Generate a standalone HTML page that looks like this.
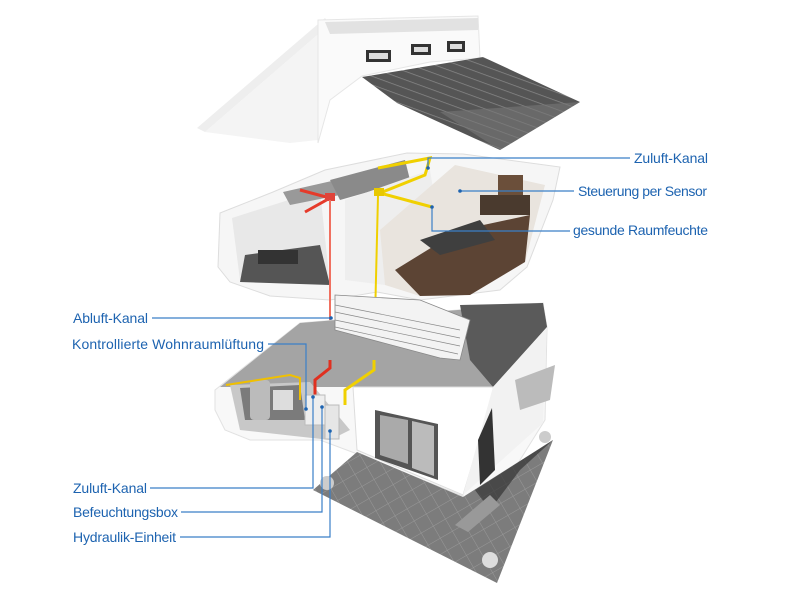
<!DOCTYPE html>
<html><head><meta charset="utf-8"><style>
html,body{margin:0;padding:0;background:#fff;}
svg{display:block}
text{font-family:"Liberation Sans",sans-serif;font-size:14px;fill:#1d63b0}
</style></head><body>
<svg width="800" height="600" viewBox="0 0 800 600" xmlns="http://www.w3.org/2000/svg">
<defs>
<pattern id="tile" width="14" height="14" patternUnits="userSpaceOnUse" patternTransform="rotate(-30)">
<rect width="14" height="14" fill="#7c7c7c"/><path d="M0 0H14M0 0V14" stroke="#999" stroke-width="1"/></pattern>
<pattern id="roof" width="8" height="8" patternUnits="userSpaceOnUse" patternTransform="rotate(20)">
<rect width="8" height="8" fill="#555"/><path d="M0 0H8" stroke="#888" stroke-width="1.5"/></pattern>
</defs>
<!-- ROOF -->
<polygon points="197,128 325,18 330,24 205,132" fill="#eee"/>
<polygon points="205,132 330,24 318,140 290,143" fill="#f4f4f4"/>
<polygon points="318,20 478,16 480,58 430,62 362,76 330,100 318,143" fill="#fafafa" stroke="#e6e6e6"/>
<polygon points="325,22 478,18 478,30 330,34" fill="#e2e2e2"/>
<rect x="366" y="50" width="25" height="12" fill="#333"/><rect x="369" y="53" width="19" height="6" fill="#ddd"/>
<rect x="411" y="44" width="20" height="11" fill="#333"/><rect x="414" y="47" width="14" height="5" fill="#ddd"/>
<rect x="447" y="41" width="18" height="11" fill="#333"/><rect x="450" y="44" width="12" height="5" fill="#ddd"/>
<polygon points="362,77 483,57 580,102 500,150 397,103" fill="url(#roof)"/>
<polygon points="440,112 580,102 500,150" fill="#777" opacity="0.6"/>
<!-- UPPER FLOOR -->
<polygon points="220,213 273,192 325,170 407,153 463,154 560,167 553,200 527,267 500,290 420,300 377,292 330,300 270,296 230,282 218,267" fill="#f6f6f6" stroke="#ddd"/>
<polygon points="232,218 320,190 330,285 240,280" fill="#e8e8e8"/>
<polygon points="245,255 320,245 330,285 240,282" fill="#555"/>
<rect x="258" y="250" width="40" height="14" fill="#333"/>
<polygon points="283,192 345,178 340,195 290,205" fill="#999"/>
<polygon points="330,180 405,160 410,180 340,200" fill="#8a8a8a"/>
<polygon points="345,200 430,170 440,232 385,285 345,280" fill="#eee"/>
<polygon points="380,230 455,165 545,185 525,262 470,295 420,296 385,285" fill="#e9e4de"/>
<polygon points="395,270 460,230 530,215 525,262 470,295 420,296" fill="#5c4434"/>
<polygon points="420,240 480,220 495,240 440,255" fill="#3f3f3f"/>
<rect x="498" y="175" width="25" height="20" fill="#6b4f3a"/>
<rect x="480" y="195" width="50" height="20" fill="#4a3a2e"/>
<!-- ducts -->
<polyline points="378,168 430,158 425,175 380,193" fill="none" stroke="#f0d000" stroke-width="3"/>
<polyline points="380,193 432,207" fill="none" stroke="#f0d000" stroke-width="3"/>
<rect x="374" y="188" width="10" height="8" fill="#e8c800"/>
<line x1="378" y1="196" x2="374" y2="360" stroke="#f0d000" stroke-width="2"/>
<polyline points="300,190 330,198 305,212" fill="none" stroke="#e53a2a" stroke-width="3"/>
<rect x="325" y="193" width="10" height="8" fill="#e0443a"/>
<line x1="330" y1="200" x2="330" y2="360" stroke="#f07060" stroke-width="2"/>
<!-- LOWER FLOOR -->
<polygon points="215,390 300,323 543,303 547,327 545,420 495,500 465,497 360,455 320,440 250,440 225,430 215,410" fill="#f8f8f8" stroke="#e2e2e2"/>
<polygon points="300,323 543,303 547,327 493,387 353,387 220,387" fill="#a4a4a4"/>
<polygon points="460,305 543,303 547,327 493,387 470,360" fill="#5a5a5a"/>
<polygon points="230,385 310,382 350,430 330,440 240,430" fill="#c8c8c8"/>
<polygon points="240,388 300,385 305,420 245,420" fill="#7b7b7b"/>
<rect x="250" y="380" width="20" height="40" rx="4" fill="#bbb"/>
<rect x="273" y="390" width="20" height="20" fill="#ddd"/>
<polygon points="353,387 493,387 493,395 463,495 357,450" fill="#fff" stroke="#ddd"/>
<polygon points="493,387 547,327 543,423 463,495" fill="#f2f2f2"/>
<polygon points="375,410 438,424 438,480 375,458" fill="#555"/>
<polygon points="380,415 408,420 408,464 380,455" fill="#aaa"/>
<polygon points="412,421 434,426 434,476 412,468" fill="#bbb"/>
<polygon points="478,440 492,408 495,470 480,485" fill="#333"/>
<!-- railing box -->
<polygon points="335,295 420,300 470,320 460,360 440,358 335,330" fill="#f3f3f3" stroke="#888" stroke-width="0.8"/>
<g stroke="#888" stroke-width="0.7"><line x1="335" y1="305" x2="460" y2="330"/><line x1="335" y1="312" x2="460" y2="338"/><line x1="335" y1="320" x2="460" y2="346"/><line x1="335" y1="327" x2="458" y2="354"/></g>
<!-- duct lower -->
<polyline points="330,360 330,368 315,380 315,400" fill="none" stroke="#e03020" stroke-width="3"/>
<polyline points="374,360 374,370 345,390 345,405" fill="none" stroke="#f0d000" stroke-width="3"/>
<polyline points="226,385 290,375 300,378 300,400" fill="none" stroke="#f0c000" stroke-width="2"/>
<rect x="305" y="395" width="20" height="30" fill="#eee" stroke="#bbb"/>
<rect x="325" y="405" width="14" height="34" fill="#e6e6e6" stroke="#bbb"/>
<!-- terrace -->
<polygon points="313,490 357,452 463,497 553,440 497,583" fill="url(#tile)"/>
<polygon points="475,490 553,440 520,470 490,510" fill="#333" opacity="0.7"/>
<polygon points="455,525 490,495 500,505 468,532" fill="#999"/>
<circle cx="545" cy="437" r="6" fill="#ccc"/><circle cx="490" cy="560" r="8" fill="#ddd"/><circle cx="327" cy="483" r="7" fill="#ccc"/>
<polygon points="515,380 555,365 550,400 520,410" fill="#bbb"/>
<!-- LEADER LINES -->
<g stroke="#3a7fc8" stroke-width="1.2" fill="none">
<polyline points="428,168 428,158 630,158"/>
<line x1="460" y1="191" x2="574" y2="191"/>
<polyline points="432,207 432,231 570,231"/>
<line x1="152" y1="318" x2="331" y2="318"/>
<polyline points="268,344 306,344 306,409"/>
<polyline points="150,488 313,488 313,397"/>
<polyline points="181,512 322,512 322,407"/>
<polyline points="180,537 330,537 330,431"/>
</g>
<g fill="#1d63b0"><circle cx="428" cy="168" r="1.8"/><circle cx="460" cy="191" r="1.8"/><circle cx="432" cy="207" r="1.8"/><circle cx="331" cy="318" r="1.8"/><circle cx="306" cy="409" r="1.8"/><circle cx="313" cy="397" r="1.8"/><circle cx="322" cy="407" r="1.8"/><circle cx="330" cy="431" r="1.8"/></g>
<!-- LABELS -->
<text x="634" y="163" textLength="74">Zuluft-Kanal</text>
<text x="578" y="196" textLength="129">Steuerung per Sensor</text>
<text x="573" y="235" textLength="135">gesunde Raumfeuchte</text>
<text x="73" y="323" textLength="75">Abluft-Kanal</text>
<text x="72" y="349" textLength="192">Kontrollierte Wohnraumlüftung</text>
<text x="73" y="493" textLength="74">Zuluft-Kanal</text>
<text x="73" y="517" textLength="105">Befeuchtungsbox</text>
<text x="73" y="542" textLength="103">Hydraulik-Einheit</text>
</svg>
</body></html>
